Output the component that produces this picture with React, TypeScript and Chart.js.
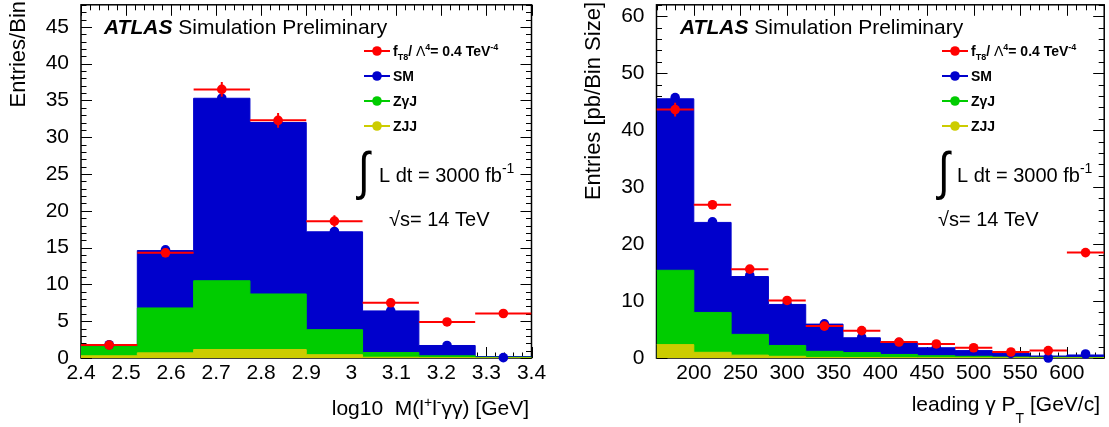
import React, { useEffect, useRef } from "react";
import { Chart, registerables } from "chart.js";

Chart.register(...registerables);

const FONT = "'Liberation Sans', Arial, Helvetica, sans-serif";
const H = 427;

// ---------- Left panel: log10 M(l+l-yy) ----------
const massEdges = [2.4, 2.525, 2.65, 2.775, 2.9, 3.025, 3.15, 3.275, 3.4];
const massSM = [1.75, 14.6, 35.3, 32.0, 17.15, 6.4, 1.7, 0.2];
const massZgJ = [1.55, 6.8, 10.5, 8.7, 3.85, 0.74, 0.3, 0.1];
const massZJJ = [0.3, 0.7, 1.15, 1.15, 0.45, 0.1, 0.05, 0.02];
const massSMPts = [1.8, 14.7, 35.3, 31.9, 17.2, 6.4, 1.7, 0.05];
const massFT8 = [1.75, 14.3, 36.5, 32.3, 18.6, 7.5, 4.9, 6.05];
const massFT8Err = [0.35, 0.6, 1.0, 1.0, 0.8, 0.5, 0.4, 0.4];
const massXTicks = [2.4, 2.5, 2.6, 2.7, 2.8, 2.9, 3.0, 3.1, 3.2, 3.3, 3.4];
const massYTicks = [0, 5, 10, 15, 20, 25, 30, 35, 40, 45];

// ---------- Right panel: leading photon pT ----------
const ptEdges = [160, 200, 240, 280, 320, 360, 400, 440, 480, 520, 560, 600, 640];
const ptSM = [45.5, 23.8, 14.3, 9.4, 5.95, 3.55, 2.7, 1.8, 1.3, 0.8, 0.35, 0.53];
const ptZgJ = [15.4, 8.0, 4.15, 2.2, 1.17, 0.95, 0.62, 0.4, 0.3, 0.17, 0.12, 0.1];
const ptZJJ = [2.35, 1.0, 0.5, 0.3, 0.1, 0.08, 0.06, 0.05, 0.04, 0.03, 0.02, 0.02];
const ptSMPts = [45.7, 23.9, 14.5, 9.4, 6.0, 3.6, 2.7, 1.8, 1.3, 0.8, 0.0, 0.7];
const ptFT8 = [43.6, 26.9, 15.6, 10.1, 5.6, 4.8, 2.8, 2.47, 1.8, 1.05, 1.3, 18.5];
const ptFT8Err = [1.2, 0.8, 0.6, 0.5, 0.4, 0.4, 0.3, 0.3, 0.3, 0.2, 0.2, 0.6];
const ptXTicks = [200, 250, 300, 350, 400, 450, 500, 550, 600];
const ptYTicks = [0, 10, 20, 30, 40, 50, 60];

const BLUE = "#0000cc";
const GREEN = "#00cc00";
const YELLOW = "#cccc00";
const RED = "#ff0000";

type Run = { t: string; size: number; bold?: boolean; italic?: boolean; dy?: number };

interface Spec {
  canvasX: number;
  canvasW: number;
  area: { left: number; right: number; top: number; bottom: number };
  edges: number[];
  sm: number[];
  zgj: number[];
  zjj: number[];
  smPts: number[];
  ft8: number[];
  ft8Err: number[];
  xMin: number;
  xMax: number;
  yMax: number;
  xTicks: number[];
  yTicks: number[];
  xMinorStep: number;
  yMinorStep: number;
  xFmt: (v: number) => string;
  xTitle: Run[];
  xTitleRight: number;
  xTitleBase: number;
  yTitle: Run[];
  yTitleBase: number;
  yTitleEnd: number;
  atlasX: number;
  legMarkerX: number;
  legTextX: number;
  integralX: number;
  lumiX: number;
  sqrtsX: number;
}

const leftSpec: Spec = {
  canvasX: 0,
  canvasW: 556,
  area: { left: 81, right: 531.5, top: 3, bottom: 358 },
  edges: massEdges,
  sm: massSM,
  zgj: massZgJ,
  zjj: massZJJ,
  smPts: massSMPts,
  ft8: massFT8,
  ft8Err: massFT8Err,
  xMin: 2.4,
  xMax: 3.4,
  yMax: 48,
  xTicks: massXTicks,
  yTicks: massYTicks,
  xMinorStep: 0.02,
  yMinorStep: 1,
  xFmt: (v) => String(Math.round(v * 100) / 100),
  xTitle: [
    { t: "log10  M(l", size: 21 },
    { t: "+", size: 14, dy: -8 },
    { t: "l", size: 21 },
    { t: "-", size: 14, dy: -8 },
    { t: "γγ) [GeV]", size: 21 },
  ],
  xTitleRight: 529,
  xTitleBase: 415,
  yTitle: [{ t: "Entries/Bin", size: 22 }],
  yTitleBase: 25,
  yTitleEnd: 1,
  atlasX: 104,
  legMarkerX: 377,
  legTextX: 393,
  integralX: 358,
  lumiX: 379,
  sqrtsX: 389,
};

const rightSpec: Spec = {
  canvasX: 556,
  canvasW: 553,
  area: { left: 656.5, right: 1104.5, top: 3, bottom: 358 },
  edges: ptEdges,
  sm: ptSM,
  zgj: ptZgJ,
  zjj: ptZJJ,
  smPts: ptSMPts,
  ft8: ptFT8,
  ft8Err: ptFT8Err,
  xMin: 160,
  xMax: 640,
  yMax: 62,
  xTicks: ptXTicks,
  yTicks: ptYTicks,
  xMinorStep: 10,
  yMinorStep: 2,
  xFmt: (v) => String(v),
  xTitle: [
    { t: "leading γ P", size: 21 },
    { t: "T", size: 14, dy: 12 },
    { t: " [GeV/c]", size: 21 },
  ],
  xTitleRight: 1100,
  xTitleBase: 411,
  yTitle: [{ t: "Entries [pb/Bin Size]", size: 22 }],
  yTitleBase: 600,
  yTitleEnd: 2,
  atlasX: 680,
  legMarkerX: 955,
  legTextX: 971,
  integralX: 938,
  lumiX: 957,
  sqrtsX: 938,
};

function fontOf(r: Run) {
  return `${r.italic ? "italic " : ""}${r.bold ? "bold " : ""}${r.size}px ${FONT}`;
}

function drawRuns(ctx: CanvasRenderingContext2D, x: number, y: number, runs: Run[], align: "left" | "right" = "left") {
  ctx.textAlign = "left";
  ctx.textBaseline = "alphabetic";
  let total = 0;
  for (const r of runs) {
    ctx.font = fontOf(r);
    total += ctx.measureText(r.t).width;
  }
  let cx = align === "right" ? x - total : x;
  for (const r of runs) {
    ctx.font = fontOf(r);
    ctx.fillText(r.t, cx, y + (r.dy || 0));
    cx += ctx.measureText(r.t).width;
  }
}

function makePlugin(spec: Spec) {
  const ox = spec.canvasX;
  return {
    id: "rootFrame" + ox,
    beforeDatasetsDraw(chart: any) {
      const ctx: CanvasRenderingContext2D = chart.ctx;
      const { left, right, top, bottom } = chart.chartArea;
      const xs = chart.scales.x;
      const ys = chart.scales.y;
      ctx.save();
      ctx.strokeStyle = "#000";
      ctx.lineWidth = 1;
      const nX = Math.round((spec.xMax - spec.xMin) / spec.xMinorStep);
      for (let k = 0; k <= nX; k++) {
        const v = spec.xMin + k * spec.xMinorStep;
        const major = spec.xTicks.some((t) => Math.abs(t - v) < spec.xMinorStep / 10);
        const len = major ? 11 : 5.5;
        const px = Math.round(xs.getPixelForValue(v)) + 0.5;
        ctx.beginPath();
        ctx.moveTo(px, bottom);
        ctx.lineTo(px, bottom - len);
        ctx.moveTo(px, top);
        ctx.lineTo(px, top + len);
        ctx.stroke();
      }
      const nY = Math.floor(spec.yMax / spec.yMinorStep + 1e-9);
      for (let k = 0; k <= nY; k++) {
        const v = k * spec.yMinorStep;
        const major = spec.yTicks.some((t) => Math.abs(t - v) < spec.yMinorStep / 10);
        const len = major ? 11 : 5.5;
        const py = Math.round(ys.getPixelForValue(v)) + 0.5;
        ctx.beginPath();
        ctx.moveTo(left, py);
        ctx.lineTo(left + len, py);
        ctx.moveTo(right, py);
        ctx.lineTo(right - len, py);
        ctx.stroke();
      }
      ctx.lineWidth = 1.5;
      ctx.strokeRect(left, top, right - left, bottom - top);
      ctx.restore();
    },
    afterDraw(chart: any) {
      const ctx: CanvasRenderingContext2D = chart.ctx;
      ctx.save();
      ctx.fillStyle = "#000";
      // ATLAS label
      drawRuns(ctx, spec.atlasX - ox, 33.5, [
        { t: "ATLAS", size: 21, bold: true, italic: true },
        { t: " Simulation Preliminary", size: 21 },
      ]);
      // Legend
      const entries: { color: string; runs: Run[] }[] = [
        {
          color: RED,
          runs: [
            { t: "f", size: 14, bold: true },
            { t: "T8", size: 9, bold: true, dy: 4 },
            { t: "/ ", size: 14, bold: true },
            { t: "Λ", size: 14 },
            { t: "4", size: 9, bold: true, dy: -6 },
            { t: "= 0.4 TeV", size: 14, bold: true },
            { t: "-4", size: 9, bold: true, dy: -6 },
          ],
        },
        { color: BLUE, runs: [{ t: "SM", size: 14, bold: true }] },
        { color: GREEN, runs: [{ t: "ZγJ", size: 14, bold: true }] },
        { color: YELLOW, runs: [{ t: "ZJJ", size: 14, bold: true }] },
      ];
      const legY = [51, 76, 101, 126];
      entries.forEach((e, i) => {
        const y = legY[i];
        const mx = spec.legMarkerX - ox;
        ctx.strokeStyle = e.color;
        ctx.lineWidth = 2;
        ctx.beginPath();
        ctx.moveTo(mx - 13, y);
        ctx.lineTo(mx + 13, y);
        ctx.stroke();
        ctx.fillStyle = e.color;
        ctx.beginPath();
        ctx.arc(mx, y, 4.8, 0, Math.PI * 2);
        ctx.fill();
        ctx.fillStyle = "#000";
        drawRuns(ctx, spec.legTextX - ox, y + 5, e.runs);
      });
      // Luminosity and energy
      ctx.fillStyle = "#000";
      ctx.save();
      ctx.translate(spec.integralX - ox, 189);
      ctx.scale(1, 1.25);
      ctx.font = `42px ${FONT}`;
      ctx.textAlign = "left";
      ctx.fillText("∫", 0, 0);
      ctx.restore();
      drawRuns(ctx, spec.lumiX - ox, 182, [
        { t: "L dt = 3000 fb", size: 20 },
        { t: "-1", size: 14, dy: -9 },
      ]);
      drawRuns(ctx, spec.sqrtsX - ox, 226, [{ t: "√s= 14 TeV", size: 20 }]);
      // Axis titles
      drawRuns(ctx, spec.xTitleRight - ox, spec.xTitleBase, spec.xTitle, "right");
      ctx.save();
      ctx.translate(spec.yTitleBase - ox, spec.yTitleEnd);
      ctx.rotate(-Math.PI / 2);
      drawRuns(ctx, 0, 0, spec.yTitle, "right");
      ctx.restore();
      ctx.restore();
    },
  };
}

function buildConfig(spec: Spec): any {
  const e = spec.edges;
  const centers = e.slice(0, -1).map((v, i) => (v + e[i + 1]) / 2);
  const hist = (vals: number[]) => e.map((x, i) => ({ x, y: vals[Math.min(i, vals.length - 1)] }));
  const pts = (vals: number[]) => centers.map((x, i) => ({ x, y: vals[i] }));
  const hErr = centers.flatMap((c, i) => [
    { x: e[i], y: spec.ft8[i] },
    { x: e[i + 1], y: spec.ft8[i] },
    { x: e[i + 1], y: null },
  ]);
  const vErr = centers.flatMap((c, i) => [
    { x: c, y: spec.ft8[i] - spec.ft8Err[i] },
    { x: c, y: spec.ft8[i] + spec.ft8Err[i] },
    { x: c, y: null },
  ]);
  const histDs = (label: string, vals: number[], color: string, order: number) => ({
    type: "line",
    label,
    data: hist(vals),
    stepped: "before",
    fill: "origin",
    backgroundColor: color,
    borderColor: color,
    borderWidth: 1,
    pointRadius: 0,
    order,
  });
  const tickFont = { family: FONT, size: 21 };
  return {
    type: "line",
    data: {
      datasets: [
        {
          type: "line",
          label: "fT8 points",
          data: pts(spec.ft8),
          showLine: false,
          pointRadius: 4.8,
          pointBackgroundColor: RED,
          pointBorderWidth: 0,
          clip: false,
          order: 0,
        },
        {
          type: "line",
          label: "fT8 xerr",
          data: hErr,
          borderColor: RED,
          borderWidth: 2,
          pointRadius: 0,
          spanGaps: false,
          fill: false,
          order: 1,
        },
        {
          type: "line",
          label: "fT8 yerr",
          data: vErr,
          borderColor: RED,
          borderWidth: 2,
          pointRadius: 0,
          spanGaps: false,
          fill: false,
          order: 1,
        },
        {
          type: "line",
          label: "SM points",
          data: pts(spec.smPts),
          showLine: false,
          pointRadius: 4.8,
          pointBackgroundColor: BLUE,
          pointBorderWidth: 0,
          clip: false,
          order: 2,
        },
        histDs("ZJJ", spec.zjj, YELLOW, 3),
        histDs("ZγJ", spec.zgj, GREEN, 4),
        histDs("SM", spec.sm, BLUE, 5),
      ],
    },
    options: {
      animation: false,
      responsive: false,
      events: [],
      layout: {
        padding: {
          top: spec.area.top,
          left: 0,
          bottom: 0,
          right: spec.canvasX + spec.canvasW - spec.area.right,
        },
      },
      plugins: { legend: { display: false }, tooltip: { enabled: false } },
      scales: {
        x: {
          type: "linear",
          min: spec.xMin,
          max: spec.xMax,
          grid: { display: false },
          border: { display: false },
          ticks: {
            font: tickFont,
            color: "#000",
            padding: -5,
            maxRotation: 0,
            autoSkip: false,
            callback: (v: number) => spec.xFmt(v),
          },
          afterBuildTicks: (s: any) => {
            s.ticks = spec.xTicks.map((v) => ({ value: v }));
          },
          afterFit: (s: any) => {
            s.height = H - spec.area.bottom;
            s.paddingLeft = 0;
            s.paddingRight = 0;
          },
        },
        y: {
          type: "linear",
          min: 0,
          max: spec.yMax,
          grid: { display: false },
          border: { display: false },
          ticks: { font: tickFont, color: "#000", padding: 4, autoSkip: false },
          afterBuildTicks: (s: any) => {
            s.ticks = spec.yTicks.map((v) => ({ value: v }));
          },
          afterFit: (s: any) => {
            s.width = spec.area.left - spec.canvasX;
            s.paddingTop = 0;
            s.paddingBottom = 0;
          },
        },
      },
    },
    plugins: [makePlugin(spec)],
  };
}

function Panel({ spec }: { spec: Spec }) {
  const ref = useRef<HTMLCanvasElement>(null);
  useEffect(() => {
    if (!ref.current) return;
    const chart = new Chart(ref.current, buildConfig(spec));
    return () => chart.destroy();
  }, [spec]);
  return (
    <canvas
      ref={ref}
      width={spec.canvasW}
      height={H}
      style={{ position: "absolute", left: spec.canvasX, top: 0, width: spec.canvasW, height: H, display: "block" }}
    />
  );
}

export default function App() {
  useEffect(() => {
    document.body.style.margin = "0";
  }, []);
  return (
    <div style={{ position: "absolute", left: 0, top: 0, width: 1109, height: H, background: "#fff", overflow: "hidden" }}>
      <Panel spec={leftSpec} />
      <Panel spec={rightSpec} />
    </div>
  );
}
